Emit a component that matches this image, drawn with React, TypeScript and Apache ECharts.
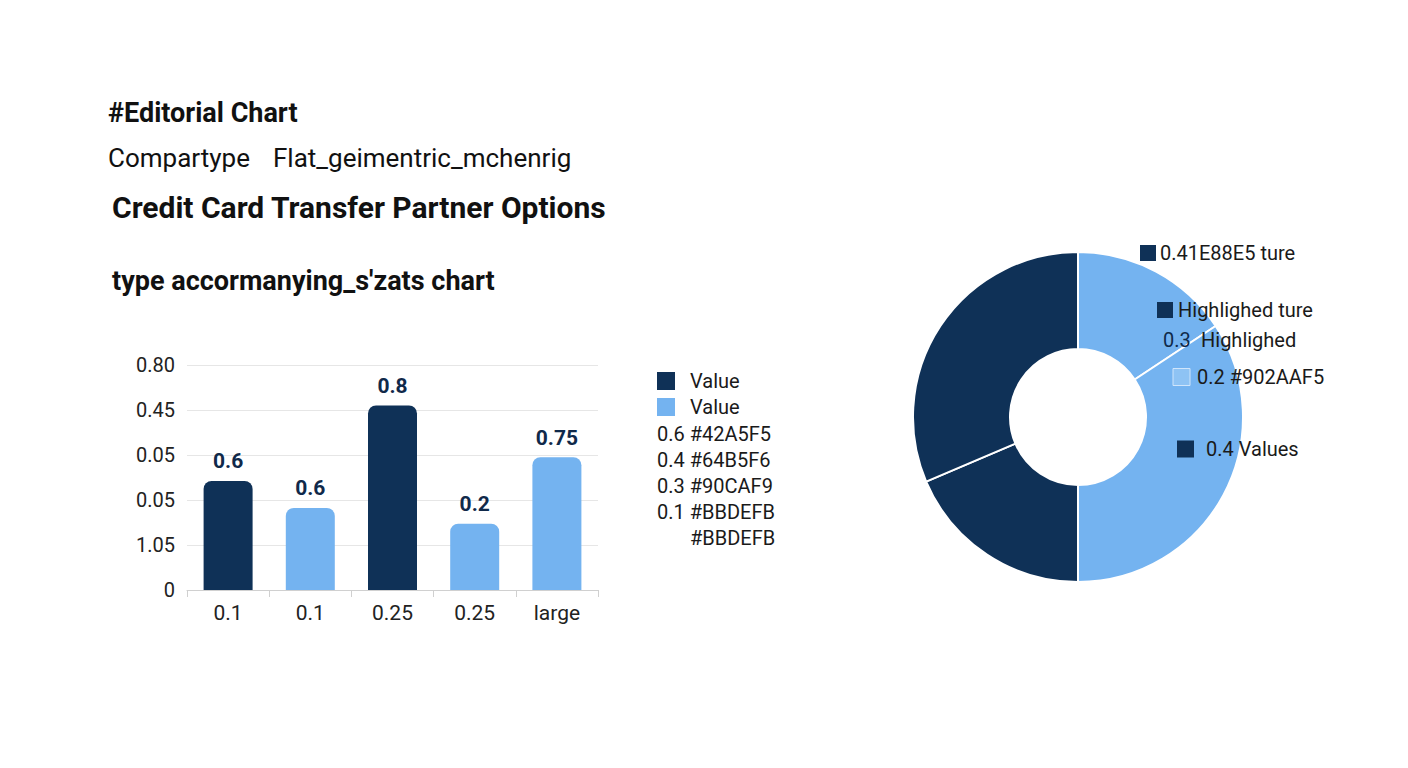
import { useEffect, useRef } from 'react'
import * as echarts from 'echarts'

const NAVY = '#0f3157'
const SKY = '#74b3f0'

// bar chart
const categories = ['0.1', '0.1', '0.25', '0.25', 'large']
const barValues = [0.485, 0.365, 0.82, 0.295, 0.59]
const barLabels = ['0.6', '0.6', '0.8', '0.2', '0.75']
const barColors = [NAVY, SKY, NAVY, SKY, SKY]
const yTickLabels = ['0', '1.05', '0.05', '0.05', '0.45', '0.80']

// middle legend
const legendKeys = [
  { name: 'Value', color: NAVY },
  { name: 'Value', color: SKY },
]
const legendNotes = ['0.6 #42A5F5', '0.4 #64B5F6', '0.3 #90CAF9', '0.1 #BBDEFB']
const legendTail = '#BBDEFB'

// donut
const donutNames = ['A', 'B', 'C', 'D']
const donutValues = [15.7, 34.3, 18.6, 31.4]
const donutColors = [SKY, SKY, NAVY, NAVY]

const font = 'Roboto, "Noto Sans", sans-serif'

export default function App() {
  const chartRef = useRef<HTMLDivElement>(null)

  useEffect(() => {
    if (!chartRef.current) return
    const chart = echarts.init(chartRef.current, null, { renderer: 'svg' })

    const txt = (x: number, y: number, text: string, size: number, weight: any = 'normal', fill = '#1a1a1a') => ({
      type: 'text',
      x,
      y,
      z: 100,
      style: { text, fontSize: size, fontWeight: weight, fontFamily: font, fill, textVerticalAlign: 'middle' },
    })
    const sq = (x: number, y: number, size: number, color: string, stroke?: string) => ({
      type: 'rect',
      z: 100,
      shape: { x, y: y - size / 2, width: size, height: size },
      style: { fill: color, stroke: stroke ?? null, lineWidth: stroke ? 1 : 0 },
    })

    const graphics: any[] = [
      txt(108, 113, '#Editorial Chart', 27, 'bold', '#111'),
      txt(108, 158, 'Compartype', 26, 'normal', '#111'),
      txt(273, 158, 'Flat_geimentric_mchenrig', 26, 'normal', '#111'),
      txt(112, 207, 'Credit Card Transfer Partner Options', 30, 'bold', '#111'),
      txt(112, 281, "type accormanying_s'zats chart", 27, 'bold', '#111'),
    ]

    legendKeys.forEach((k, i) => {
      graphics.push(sq(657, 381 + i * 26, 18, k.color))
      graphics.push(txt(690, 381 + i * 26, k.name, 20))
    })
    legendNotes.forEach((n, i) => {
      graphics.push(txt(657, 434 + i * 26, n, 20))
    })
    graphics.push(txt(690, 538, legendTail, 20))

    // donut annotations
    graphics.push(sq(1140, 253, 16, NAVY))
    graphics.push(txt(1160, 253, '0.41E88E5 ture', 20))
    graphics.push(sq(1157, 310, 16, NAVY))
    graphics.push(txt(1178, 310, 'Highlighed ture', 20))
    graphics.push(txt(1163, 340, '0.3', 20, 'normal', '#0f2a4a'))
    graphics.push(txt(1201, 340, 'Highlighed', 20))
    graphics.push(sq(1173, 377, 17, '#8ec3f4', '#cfe5fb'))
    graphics.push(txt(1197, 377, '0.2 #902AAF5', 20))
    graphics.push(sq(1177, 449, 17, NAVY))
    graphics.push(txt(1206, 449, '0.4 Values', 20))

    const option = {
      animation: false,
      grid: { left: 187, top: 365, width: 411, height: 225 },
      xAxis: {
        type: 'category',
        data: categories,
        axisLine: { lineStyle: { color: '#d0d0d0' } },
        axisTick: { show: true, length: 7, lineStyle: { color: '#d0d0d0' } },
        axisLabel: { fontSize: 21, color: '#222', fontFamily: font, margin: 12 },
      },
      yAxis: {
        type: 'value',
        min: 0,
        max: 1,
        interval: 0.2,
        axisLine: { show: false },
        axisTick: { show: false },
        splitLine: { lineStyle: { color: '#e6e6e6' } },
        axisLabel: {
          fontSize: 20,
          color: '#222',
          fontFamily: font,
          margin: 12,
          formatter: (v: number) => yTickLabels[Math.round(v / 0.2)] ?? '',
        },
      },
      series: [
        {
          type: 'bar',
          barWidth: 49,
          data: barValues.map((v, i) => ({
            value: v,
            itemStyle: { color: barColors[i], borderRadius: [8, 8, 0, 0] },
            label: { formatter: barLabels[i] },
          })),
          label: {
            show: true,
            position: 'top',
            distance: 9,
            fontSize: 21,
            fontWeight: 'bold',
            color: '#10294a',
            fontFamily: font,
          },
        },
        {
          type: 'pie',
          center: [1078, 417],
          radius: [68, 165],
          startAngle: 90,
          clockwise: true,
          label: { show: false },
          labelLine: { show: false },
          itemStyle: { borderColor: '#fff', borderWidth: 2 },
          data: donutValues.map((v, i) => ({
            name: donutNames[i],
            value: v,
            itemStyle: { color: donutColors[i] },
          })),
        },
      ],
      graphic: graphics,
    }

    chart.setOption(option as any)
    return () => chart.dispose()
  }, [])

  return (
    <div style={{ position: 'fixed', left: 0, top: 0, width: 1408, height: 768, background: '#fff' }}>
      <div ref={chartRef} style={{ width: 1408, height: 768 }} />
    </div>
  )
}
